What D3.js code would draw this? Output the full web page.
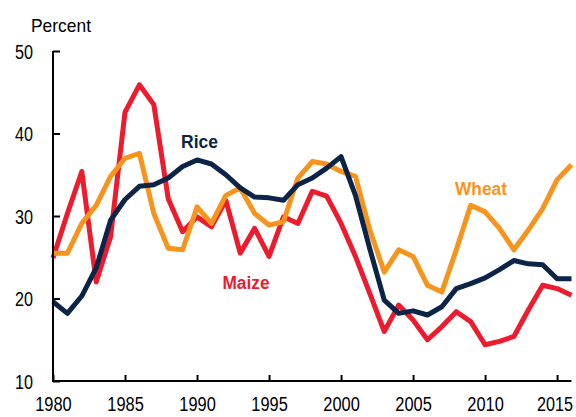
<!DOCTYPE html>
<html>
<head>
<meta charset="utf-8">
<script src="https://cdn.jsdelivr.net/npm/d3@7"></script>
<style>
  html, body { margin: 0; padding: 0; background: #fff; }
  svg { display: block; font-family: "Liberation Sans", Arial, sans-serif; }
</style>
</head>
<body>
<svg id="chart" width="576" height="417"></svg>
<script>
const years = d3.range(1980, 2017);
const rice = [19.6, 18.2, 20.3, 23.7, 29.5, 32.0, 33.6, 33.8, 34.6, 36.0, 36.8, 36.3, 35.0, 33.4, 32.3, 32.2, 31.9, 33.8, 34.6, 35.8, 37.2, 32.5, 26.0, 19.8, 18.2, 18.5, 18.0, 19.0, 21.2, 21.8, 22.5, 23.5, 24.6, 24.2, 24.1, 22.4, 22.4];
const wheat = [25.5, 25.5, 29.1, 31.3, 34.8, 37.0, 37.6, 30.3, 26.1, 25.9, 31.1, 29.1, 32.5, 33.4, 30.3, 28.9, 29.3, 34.6, 36.6, 36.3, 35.4, 34.8, 28.3, 23.2, 25.9, 25.1, 21.6, 20.8, 25.9, 31.3, 30.5, 28.5, 25.9, 28.3, 30.9, 34.4, 36.2];
const maize = [24.9, 30.3, 35.4, 22.0, 27.5, 42.6, 45.9, 43.5, 32.1, 28.1, 29.9, 28.7, 31.9, 25.5, 28.5, 25.1, 29.9, 29.1, 33.0, 32.4, 29.1, 25.1, 20.6, 16.0, 19.2, 17.4, 15.0, 16.6, 18.4, 17.2, 14.4, 14.8, 15.4, 18.6, 21.6, 21.2, 20.4];
const yTicks = [10, 20, 30, 40, 50];
const xTicks = [1980, 1985, 1990, 1995, 2000, 2005, 2010, 2015];
const seriesNames = ["Maize", "Wheat", "Rice"];
const colors = { Rice: "#0b2447", Wheat: "#f7941e", Maize: "#ec1c2e" };

const svg = d3.select("#chart");
const x = d3.scaleLinear().domain([1980, 2016]).range([53, 571.5]);
const y = d3.scaleLinear().domain([10, 50]).range([381, 51]);

const dataBy = { Rice: rice, Wheat: wheat, Maize: maize };
const line = d3.line().x((d, i) => x(years[i])).y(d => y(d)).curve(d3.curveLinear);

// lines
seriesNames.forEach(name => {
  svg.append("path")
    .datum(dataBy[name])
    .attr("d", line)
    .attr("fill", "none")
    .attr("stroke", colors[name])
    .attr("stroke-width", 5)
    .attr("stroke-linejoin", "round")
    .attr("stroke-linecap", "butt");
});

// axes
const yAxis = d3.axisLeft(y).tickValues(yTicks).tickSize(-7).tickPadding(20).tickFormat(d3.format("d"));
const gy = svg.append("g").attr("transform", "translate(53,0)").call(yAxis);
gy.select(".domain").attr("stroke", "#000").attr("stroke-width", 2).attr("d", "M0," + y(10) + "V" + y(50));
gy.selectAll(".tick line").attr("stroke", "#000").attr("stroke-width", 2);
gy.selectAll(".tick text").attr("font-size", "20px").attr("fill", "#000")
  .attr("font-family", "Liberation Sans, Arial, sans-serif").attr("x", -20).attr("text-anchor", "end")
  .attr("dy", "0.36em")
  .attr("textLength", 18).attr("lengthAdjust", "spacingAndGlyphs");

const xAxis = d3.axisBottom(x).tickValues(xTicks).tickSize(-6).tickPadding(14).tickFormat(d3.format("d"));
const gx = svg.append("g").attr("transform", "translate(0," + y(10) + ")").call(xAxis);
gx.select(".domain").attr("stroke", "#000").attr("stroke-width", 2).attr("d", "M" + (x(1980) - 1) + ",0H" + x(2016));
gx.selectAll(".tick line").attr("stroke", "#000").attr("stroke-width", 2);
gx.selectAll(".tick text").attr("font-size", "20px").attr("fill", "#000")
  .attr("font-family", "Liberation Sans, Arial, sans-serif")
  .attr("y", 30).attr("dy", 0)
  .attr("textLength", 36.5).attr("lengthAdjust", "spacingAndGlyphs");
// keep the last label inside the frame
gx.selectAll(".tick text").filter(d => d === xTicks[xTicks.length - 1])
  .attr("text-anchor", "end").attr("x", 572.5 - x(xTicks[xTicks.length - 1]))
  .attr("textLength", 36);

// unit label
svg.append("text").attr("x", 31).attr("y", 31.5).attr("font-size", "19px").attr("fill", "#000")
  .attr("textLength", 60).attr("lengthAdjust", "spacingAndGlyphs").text("Percent");

// series labels
const labels = [
  { name: "Rice", x: 181, y: 148, w: 37 },
  { name: "Maize", x: 222.5, y: 288.5, w: 47 },
  { name: "Wheat", x: 455, y: 195, w: 52 }
];
svg.selectAll(".slabel").data(labels).enter().append("text")
  .attr("class", "slabel")
  .attr("x", d => d.x).attr("y", d => d.y)
  .attr("font-size", "18px").attr("font-weight", "bold")
  .attr("fill", d => colors[d.name])
  .attr("textLength", d => d.w).attr("lengthAdjust", "spacingAndGlyphs")
  .text(d => d.name);
</script>
</body>
</html>
